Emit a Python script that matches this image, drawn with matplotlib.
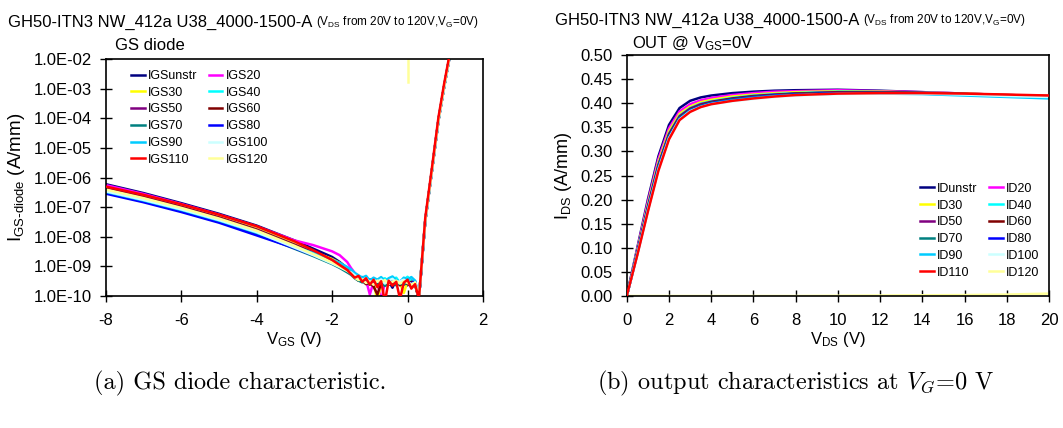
import numpy as np
import matplotlib
matplotlib.use("Agg")
import matplotlib.pyplot as plt
from matplotlib.ticker import FixedLocator, FuncFormatter, NullLocator

plt.rcParams['font.family'] = ['Liberation Sans', 'DejaVu Sans']
plt.rcParams['mathtext.default'] = 'regular'
plt.rcParams['axes.unicode_minus'] = False

# ---------------- data: GS diode (log10 of current, A/mm) ----------------
vgs = [-8, -7, -6, -5, -4, -3, -2.5, -2, -1.8, -1.6,
       -1.5, -1.4, -1.3, -1.2, -1.1, -1.0, -0.9, -0.8, -0.7, -0.6,
       -0.5, -0.4, -0.3, -0.2, -0.1, 0.0, 0.1, 0.2, 0.3,
       0.47, 0.65, 0.82, 0.97, 1.09, 1.15]

igs_labels = ['IGSunstr', 'IGS20', 'IGS30', 'IGS40', 'IGS50', 'IGS60',
              'IGS70', 'IGS80', 'IGS90', 'IGS100', 'IGS110', 'IGS120']
colors = ['#000080', '#FF00FF', '#FFFF00', '#00FFFF', '#800080', '#800000',
          '#008080', '#0000FF', '#00CCFF', '#CCFFFF', '#FF0000', '#FFFF99']

log_igs = {
    'IGSunstr': [-6.22, -6.52, -6.86, -7.22, -7.62, -8.12, -8.40, -8.68, -8.85, -9.05,
                 -9.18, -9.30, -9.40, -9.38, -9.52, -9.46, -9.62, -9.50, -9.44, -9.60,
                 -9.50, -9.72, -9.46, -9.58, -9.50, -9.64, -9.48, -9.55, -10.1,
                 -7.45, -5.72, -4.05, -2.92, -2.08, -1.68],
    'IGS20': [-6.25, -6.55, -6.89, -7.25, -7.65, -8.12, -8.28, -8.49, -8.62, -8.85,
              -9.05, -9.22, -9.36, -9.45, -9.46, -9.95, -9.52, -9.48, -10.2, -9.50,
              -9.55, -9.45, -9.60, -9.52, -9.48, -9.58, -9.50, -9.62, -10.1,
              -7.45, -5.72, -4.05, -2.92, -2.08, -1.68],
    'IGS30': [-6.33, -6.62, -6.95, -7.31, -7.72, -8.22, -8.50, -8.75, -8.88, -9.05,
              -9.18, -9.32, -9.44, -9.50, -9.45, -9.58, -9.50, -10.2, -9.55, -9.48,
              -9.60, -9.52, -9.46, -9.58, -9.90, -9.50, -9.56, -9.62, -10.1,
              -7.45, -5.72, -4.05, -2.92, -2.08, -1.68],
    'IGS40': [-6.43, -6.72, -7.04, -7.40, -7.80, -8.30, -8.55, -8.80, -8.92, -9.08,
              -9.16, -9.26, -9.34, -9.42, -9.36, -9.50, -9.42, -9.55, -9.46, -9.40,
              -9.52, -9.44, -9.38, -9.56, -9.45, -9.35, -9.50, -9.58, -10.1,
              -7.45, -5.72, -4.05, -2.92, -2.08, -1.68],
    'IGS50': [-6.36, -6.65, -6.98, -7.34, -7.75, -8.26, -8.52, -8.82, -8.96, -9.12,
              -9.22, -9.36, -9.46, -9.46, -9.58, -9.52, -9.64, -9.50, -9.56, -9.48,
              -9.62, -9.54, -9.50, -9.60, -9.52, -9.58, -9.66, -9.55, -10.1,
              -7.45, -5.72, -4.05, -2.92, -2.08, -1.68],
    'IGS60': [-6.38, -6.67, -7.00, -7.36, -7.77, -8.28, -8.56, -8.85, -8.98, -9.15,
              -9.24, -9.38, -9.48, -9.48, -9.60, -9.55, -9.68, -9.95, -9.58, -9.50,
              -9.62, -9.56, -9.50, -9.64, -9.54, -9.60, -9.52, -9.62, -10.1,
              -7.45, -5.72, -4.05, -2.92, -2.08, -1.68],
    'IGS70': [-6.51, -6.80, -7.12, -7.48, -7.90, -8.40, -8.65, -8.92, -9.05, -9.20,
              -9.28, -9.40, -9.48, -9.54, -9.50, -9.62, -9.55, -9.60, -9.52, -9.66,
              -9.58, -9.50, -9.64, -9.56, -9.62, -9.54, -9.60, -9.58, -10.1,
              -7.45, -5.72, -4.05, -2.92, -2.08, -1.68],
    'IGS80': [-6.54, -6.83, -7.16, -7.52, -7.95, -8.38, -8.62, -8.85, -8.98, -9.12,
              -9.20, -9.30, -9.38, -9.36, -9.48, -9.44, -9.52, -9.46, -9.40, -9.54,
              -9.48, -9.42, -9.56, -9.50, -9.44, -9.52, -9.58, -9.50, -10.1,
              -7.45, -5.72, -4.05, -2.92, -2.08, -1.68],
    'IGS90': [-6.48, -6.77, -7.09, -7.45, -7.86, -8.33, -8.55, -8.78, -8.88, -9.02,
              -9.10, -9.22, -9.30, -9.38, -9.32, -9.48, -9.38, -9.45, -9.36, -9.50,
              -9.40, -9.34, -9.46, -9.52, -9.38, -9.44, -9.36, -9.48, -10.1,
              -7.45, -5.72, -4.05, -2.92, -2.08, -1.68],
    'IGS100': [-6.46, -6.75, -7.07, -7.43, -7.84, -8.36, -8.62, -8.90, -9.02, -9.15,
               -9.20, -9.30, -9.38, -9.46, -9.40, -9.55, -9.46, -9.52, -9.44, -9.58,
               -9.48, -9.42, -9.55, -9.50, -9.45, -9.52, -9.60, -9.55, -10.0,
               -7.45, -5.72, -4.05, -2.92, -2.08, -1.68],
    'IGS110': [-6.30, -6.58, -6.90, -7.25, -7.64, -8.15, -8.45, -8.78, -8.95, -9.12,
               -9.25, -9.38, -9.32, -9.52, -9.40, -9.62, -9.45, -9.70, -9.50, -10.2,
               -9.48, -9.65, -9.52, -10.1, -9.55, -9.45, -9.75, -9.60, -10.1,
               -7.35, -5.63, -3.95, -2.82, -2.00, -1.60],
    'IGS120': [-6.40, -6.69, -7.02, -7.38, -7.79, -8.30, -8.58, -8.86, -9.00, -9.14,
               -9.24, -9.38, -9.46, -9.44, -9.56, -9.50, -9.62, -9.48, -9.54, -9.46,
               -9.60, -9.52, -9.48, -9.58, -9.50, -9.56, -9.62, -9.54, -10.1,
               -7.45, -5.72, -4.05, -2.92, -2.08, -1.68],
}
igs120_spike_v = [0.0, 0.0]
igs120_spike_log = [-2.77, -1.9]

# ---------------- data: output characteristics (A/mm) ----------------
vds = [0, 0.5, 1, 1.5, 2, 2.5, 3, 3.5, 4, 5, 6, 7, 8, 10, 12, 14, 16, 18, 20]
id_labels = ['IDunstr', 'ID20', 'ID30', 'ID40', 'ID50', 'ID60',
             'ID70', 'ID80', 'ID90', 'ID100', 'ID110', 'ID120']
ids = {
    'IDunstr': [0, 0.100, 0.200, 0.290, 0.355, 0.390, 0.405, 0.412, 0.416, 0.421, 0.424, 0.426, 0.427, 0.428, 0.426, 0.423, 0.420, 0.417, 0.415],
    'ID20':    [0, 0.097, 0.195, 0.284, 0.348, 0.383, 0.398, 0.406, 0.411, 0.417, 0.421, 0.424, 0.425, 0.427, 0.425, 0.423, 0.420, 0.417, 0.415],
    'ID30':    [0, 0.094, 0.190, 0.278, 0.342, 0.378, 0.393, 0.402, 0.407, 0.414, 0.418, 0.421, 0.423, 0.425, 0.424, 0.422, 0.420, 0.417, 0.415],
    'ID40':    [0, 0.092, 0.186, 0.273, 0.337, 0.374, 0.390, 0.399, 0.404, 0.411, 0.416, 0.419, 0.421, 0.424, 0.423, 0.422, 0.419, 0.416, 0.414],
    'ID50':    [0, 0.091, 0.185, 0.272, 0.336, 0.373, 0.389, 0.398, 0.403, 0.410, 0.415, 0.418, 0.420, 0.423, 0.423, 0.422, 0.419, 0.416, 0.414],
    'ID60':    [0, 0.090, 0.183, 0.270, 0.334, 0.371, 0.387, 0.396, 0.402, 0.409, 0.414, 0.417, 0.420, 0.422, 0.422, 0.421, 0.419, 0.416, 0.414],
    'ID70':    [0, 0.089, 0.182, 0.268, 0.332, 0.370, 0.386, 0.395, 0.401, 0.408, 0.413, 0.416, 0.419, 0.421, 0.422, 0.421, 0.419, 0.416, 0.413],
    'ID80':    [0, 0.088, 0.180, 0.266, 0.330, 0.368, 0.385, 0.394, 0.400, 0.407, 0.412, 0.416, 0.418, 0.421, 0.421, 0.420, 0.418, 0.415, 0.412],
    'ID90':    [0, 0.087, 0.178, 0.264, 0.328, 0.367, 0.384, 0.393, 0.399, 0.406, 0.411, 0.415, 0.417, 0.420, 0.420, 0.419, 0.416, 0.413, 0.410],
    'ID100':   [0, 0.086, 0.177, 0.262, 0.327, 0.366, 0.383, 0.392, 0.398, 0.404, 0.409, 0.413, 0.416, 0.419, 0.420, 0.420, 0.418, 0.415, 0.413],
    'ID110':   [0, 0.085, 0.175, 0.260, 0.325, 0.365, 0.382, 0.392, 0.398, 0.405, 0.410, 0.414, 0.417, 0.420, 0.421, 0.421, 0.420, 0.418, 0.416],
    'ID120':   [0, 0.000, 0.000, 0.000, 0.000, 0.000, 0.000, 0.000, 0.000, 0.000, 0.000, 0.000, 0.000, 0.0005, 0.001, 0.0015, 0.002, 0.003, 0.005],
}

fig = plt.figure(figsize=(10.63, 4.28), dpi=100)
ax1 = fig.add_axes([0.0994, 0.3084, 0.3550, 0.5530])
ax2 = fig.add_axes([0.5896, 0.3084, 0.3973, 0.5630])

leg_kw = dict(ncol=2, frameon=False, fontsize=9, loc='upper left', borderaxespad=0,
              borderpad=0, handlelength=1.1, handletextpad=0.25, columnspacing=0.9,
              labelspacing=0.38)
order = [0, 2, 4, 6, 8, 10, 1, 3, 5, 7, 9, 11]

# ---- left: GS diode ----
lines1 = {}
for lab, c in zip(igs_labels, colors):
    z = 3 if lab == 'IGS110' else 2
    ln, = ax1.plot(vgs, 10.0 ** np.array(log_igs[lab]), color=c, lw=1.8, label=lab, zorder=z)
    lines1[lab] = ln
ax1.plot(igs120_spike_v, 10.0 ** np.array(igs120_spike_log), color=colors[-1], lw=1.8, zorder=2)
ax1.set_yscale('log')
ax1.set_xlim(-8, 2)
ax1.set_ylim(1e-10, 1e-2)
ax1.yaxis.set_major_locator(FixedLocator([10.0 ** k for k in range(-10, -1)]))
ax1.yaxis.set_minor_locator(NullLocator())
ax1.yaxis.set_major_formatter(FuncFormatter(lambda v, p: f"{v:.1E}"))
ax1.set_xticks([-8, -6, -4, -2, 0, 2])
ax1.set_xlabel(r'$V_{GS}$ (V)', fontsize=12, labelpad=2)
ax1.set_ylabel(r'$I_{GS\text{-}diode}$ (A/mm)', fontsize=13.5, labelpad=5)
h1 = [lines1[igs_labels[k]] for k in order]
ax1.legend(h1, [h.get_label() for h in h1], bbox_to_anchor=(0.067, 0.955), **leg_kw)

# ---- right: output ----
lines2 = {}
for lab, c in zip(id_labels, colors):
    z = 3 if lab == 'ID110' else 2
    ln, = ax2.plot(vds, ids[lab], color=c, lw=1.8, label=lab, zorder=z)
    lines2[lab] = ln
ax2.set_xlim(0, 20)
ax2.set_ylim(0, 0.5)
ax2.set_xticks(range(0, 21, 2))
ax2.set_yticks(np.arange(0, 0.501, 0.05))
ax2.yaxis.set_major_formatter(FuncFormatter(lambda v, p: f"{v:.2f}"))
ax2.set_xlabel(r'$V_{DS}$ (V)', fontsize=12, labelpad=2)
ax2.set_ylabel(r'$I_{DS}$ (A/mm)', fontsize=13, labelpad=5)
h2 = [lines2[id_labels[k]] for k in order]
ax2.legend(h2, [h.get_label() for h in h2], bbox_to_anchor=(0.695, 0.47), **leg_kw)

for ax in (ax1, ax2):
    ax.tick_params(direction='inout', length=8, width=1, labelsize=12, top=False, right=False)
    ax.tick_params(axis='x', pad=8)
    ax.tick_params(axis='y', pad=6)
    for s in ax.spines.values():
        s.set_linewidth(1.2)

# ---- titles ----
for x0, y0 in [(0.0075, 0.938), (0.522, 0.941)]:
    t = fig.text(x0, y0, 'GH50-ITN3 NW_412a U38_4000-1500-A ', fontsize=12, va='baseline')
    fig.add_artist(plt.Annotation(r'($V_{DS}$ from 20V to 120V,$V_G$=0V)', xy=(1, 0),
                                  xycoords=t, va='bottom', fontsize=8.5))
fig.text(0.108, 0.884, 'GS diode', fontsize=12, va='baseline')
fig.text(0.5945, 0.888, r'OUT @ $V_{GS}$=0V', fontsize=12, va='baseline')

fig.text(0.226, 0.105, '(a) GS diode characteristic.', fontsize=17.5, family='cmr10',
         ha='center', va='center')
fig.text(0.748, 0.105, r'(b) output characteristics at $\mathit{V_G}$=0 V', fontsize=17.5,
         family='cmr10', math_fontfamily='cm', ha='center', va='center')

fig.savefig('out.png', dpi=100)
